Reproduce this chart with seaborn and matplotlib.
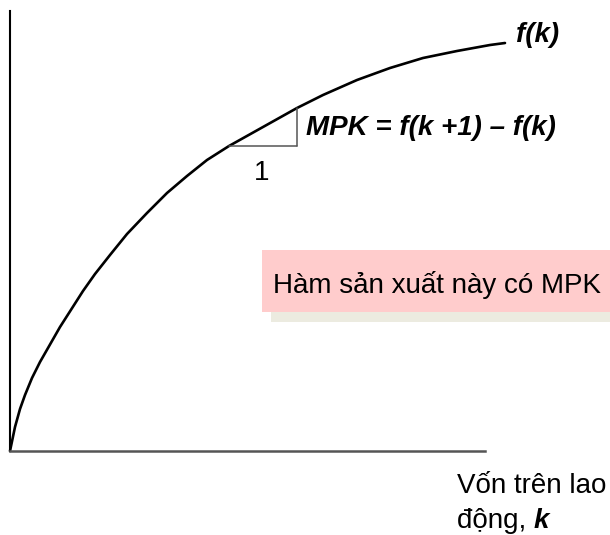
import numpy as np
import pandas as pd
import matplotlib.pyplot as plt
from matplotlib.patches import Rectangle
import seaborn as sns

# capital per worker k and output f(k)
k_vals = [0, 5, 10, 15, 22, 30, 50, 73, 85, 100, 117, 137, 157, 177, 197, 219,
          287, 313, 347, 380, 413, 447, 480, 495]
f_vals = [0, 24, 42, 56, 73, 89, 124, 160, 177, 196, 217, 238, 258, 275, 291, 305,
          343, 356, 371, 383, 393, 400, 406, 408]

# MPK triangle: from k to k+1
tri_k = [219, 287]
tri_f = [305, 343]

curve_label = "f(k)"
mpk_label = "MPK = f(k +1) – f(k)"
step_label = "1"
box_label = "Hàm sản xuất này có MPK"
xlabel_line1 = "Vốn trên lao"
xlabel_line2 = "động, "
xlabel_var = "k"

sns.set_theme(style="white")
plt.rcParams['font.family'] = ['Liberation Sans', 'DejaVu Sans']
plt.rcParams['text.color'] = 'black'

df = pd.DataFrame({"k": k_vals, "f": f_vals})

fig = plt.figure(figsize=(6.1, 5.35), dpi=100)
ax = fig.add_axes([10 / 610, 84 / 535, 475 / 610, 440 / 535])

sns.lineplot(data=df, x="k", y="f", ax=ax, color="black", lw=1.9, clip_on=False, sort=False)

# triangle showing the rise over one unit of k
ax.plot([tri_k[0], tri_k[1]], [tri_f[0], tri_f[0]], color="#555555", lw=1.1, clip_on=False)
ax.plot([tri_k[1], tri_k[1]], [tri_f[0], tri_f[1]], color="#555555", lw=1.1, clip_on=False)

ax.set_xlim(0, 475)
ax.set_ylim(0, 440)
ax.set_xlabel("")
ax.set_ylabel("")
ax.set_xticks([])
ax.set_yticks([])
for s in ["top", "right"]:
    ax.spines[s].set_visible(False)
ax.spines["left"].set_color("black")
ax.spines["left"].set_linewidth(1.5)
ax.spines["bottom"].set_color("#555555")
ax.spines["bottom"].set_linewidth(1.8)

fs = 20
ax.text(506, 409, curve_label, fontsize=fs, fontweight="bold", fontstyle="italic",
        ha="left", va="baseline")
ax.text(296, 316, mpk_label, fontsize=fs, fontweight="bold", fontstyle="italic",
        ha="left", va="baseline")
ax.text(252, 271, step_label, fontsize=fs, ha="center", va="baseline")

# pink note box with its shadow
ax.add_patch(Rectangle((261, 129), 360, 62, facecolor="#ECEBE0", edgecolor="none",
                       clip_on=False, zorder=3))
ax.add_patch(Rectangle((252, 139), 360, 62, facecolor="#FFCCCC", edgecolor="none",
                       clip_on=False, zorder=4))
ax.text(263, 158, box_label, fontsize=fs, ha="left", va="baseline", zorder=5)

# axis label below the x axis
ax.text(447, -42, xlabel_line1, fontsize=fs, ha="left", va="baseline")
t2 = ax.text(447, -77, xlabel_line2, fontsize=fs, ha="left", va="baseline")
ax.annotate(xlabel_var, xy=(1, 0), xycoords=t2, fontsize=fs, fontweight="bold",
            fontstyle="italic", ha="left", va="bottom")

fig.savefig("out.png", dpi=100)
plt.close("all")
